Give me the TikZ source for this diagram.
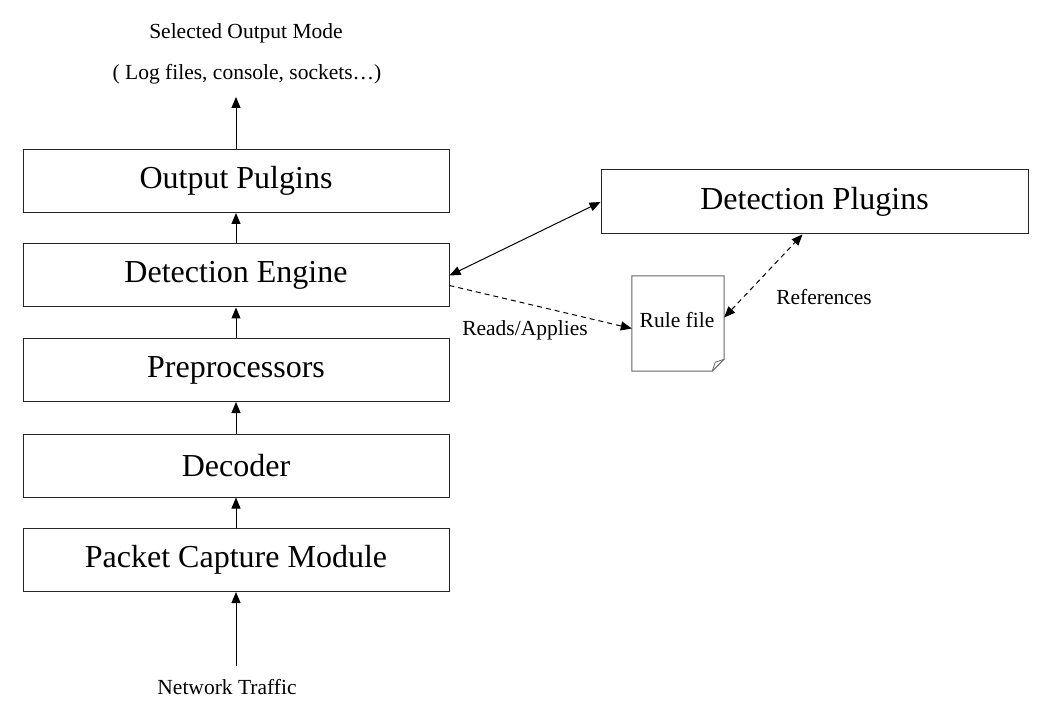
\documentclass[tikz,border=0pt]{standalone}
\usepackage{fontspec}
\setmainfont{Liberation Serif}
\usetikzlibrary{arrows.meta}
\begin{document}
\begin{tikzpicture}[x=1pt,y=-1pt,
  layer/.style={draw=black!85,line width=1pt,minimum width=426pt,minimum height=63pt,inner sep=0pt,font=\fontsize{32}{36}\selectfont},
  lbl/.style={font=\fontsize{21.5}{25}\selectfont,inner sep=0pt},
  arr/.style={line width=1pt,-{Triangle[length=11pt,width=9pt]}},
  darr/.style={line width=1pt,{Triangle[length=11pt,width=9pt]}-{Triangle[length=11pt,width=9pt]}},
  dsh/.style={dash pattern=on 5pt off 4pt}]
\useasboundingbox (0,0) rectangle (1039,711);
\node[layer] (op) at (236,181) {Output Pulgins};
\node[layer] (de) at (236,275.5) {Detection Engine};
\node[layer] (pp) at (236,370) {Preprocessors};
\node[layer] (dc) at (236,465.5) {Decoder};
\node[layer] (pc) at (236,560) {Packet Capture Module};
\node[layer,minimum width=427pt,minimum height=64pt] (dp) at (814.5,202) {Detection Plugins};
\node[minimum width=92pt,minimum height=95pt,inner sep=0pt] (rule) at (678,323.5) {};
\node[lbl] (ruletxt) at (677,320) {Rule file};
\draw[draw=black!60,line width=1pt] (rule.north west) -- (rule.north east) -- ([yshift=12pt]rule.south east) -- ([xshift=-12pt]rule.south east) -- (rule.south west) -- cycle;
\draw[draw=black!60,line width=0.8pt] ([xshift=-12pt]rule.south east) -- ([xshift=-9pt,yshift=9pt]rule.south east) -- ([yshift=12pt]rule.south east);
\node[lbl] (sel) at (246,33) {Selected Output Mode};
\node[lbl] (modes) at (247,74) {( Log files, console, sockets…)};
\node[lbl] (net) at (227,687) {Network Traffic};
\node[lbl] (reads) at (525,330) {Reads/Applies};
\node[lbl] (refs) at (824,297) {References};
\coordinate (outtop) at (236,97);
\coordinate (netin) at (236,666);
\draw[arr] (op.north) -- (outtop);
\draw[arr] (de.north) -- (op.south);
\draw[arr] (pp.north) -- (de.south);
\draw[arr] (dc.north) -- (pp.south);
\draw[arr] (pc.north) -- (dc.south);
\draw[arr] (netin) -- (pc.south);
\draw[darr] (de.east) -- (dp.west);
\draw[arr,dsh] ([yshift=-10pt]de.east) -- ([yshift=-5pt]rule.west);
\draw[darr,dsh] ([yshift=6pt]rule.east) -- ([xshift=-12pt]dp.south);
\end{tikzpicture}
\end{document}
